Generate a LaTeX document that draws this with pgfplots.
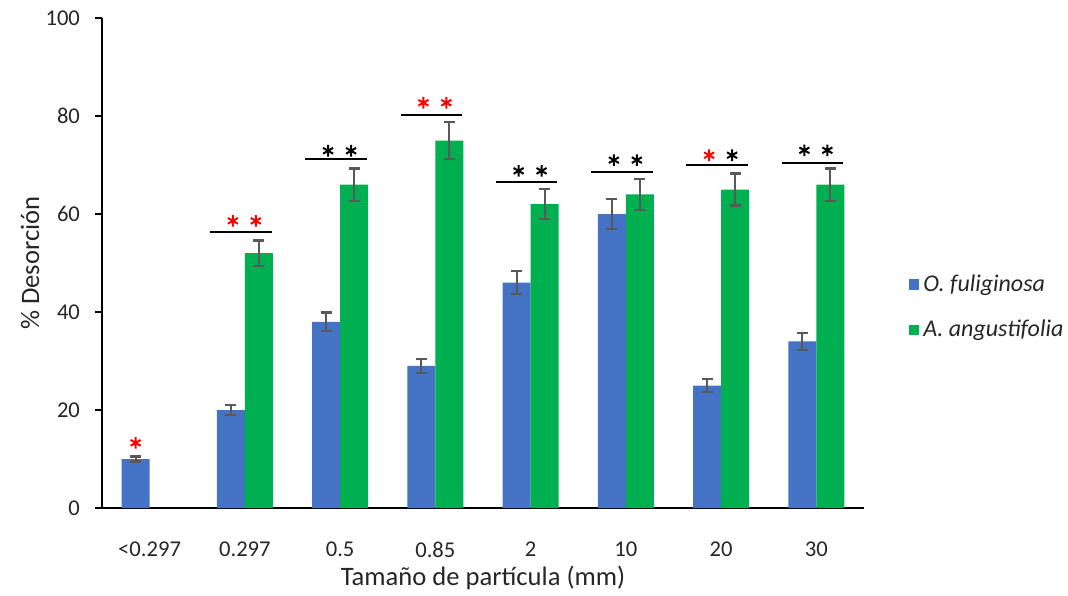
\documentclass[border=0pt]{standalone}
\usepackage{pgfplots}
\pgfplotsset{compat=1.18}
\usepackage{fontspec}
\setmainfont{Carlito}
\definecolor{blu}{HTML}{4472C4}
\definecolor{grn}{HTML}{00B050}
\definecolor{txt}{HTML}{262626}
\definecolor{err}{HTML}{595959}
\begin{document}
\begin{tikzpicture}
\begin{axis}[
 at={(0,0)}, anchor=south west,
 scale only axis, width=381pt, height=245pt,
 xmin=-0.5, xmax=7.5, ymin=0, ymax=100,
 axis x line*=bottom, axis y line*=left,
 axis line style={black, line width=1pt},
 xtick={0,...,7}, xticklabels={<0.297,0.297,0.5,0.85,2,10,20,30},
 x tick style={draw=none},
 ytick={0,20,...,100},
 y tick style={black, line width=1pt},
 tick align=outside, major tick length=3.5pt,
 /pgf/number format/assume math mode=true,
 tick label style={font=\fontsize{11.3}{13}\selectfont, text=txt},
 xticklabel style={yshift=-10pt},
 yticklabel style={xshift=-4pt},
 xlabel={Tamaño de partícula (mm)},
 ylabel={\% Desorción},
 label style={font=\fontsize{13.3}{15}\selectfont, text=txt},
 xlabel style={at={(axis description cs:0.5,-0.143)}, anchor=center},
 ylabel style={at={(axis description cs:-0.0945,0.5)}, anchor=center},
 legend style={at={(axis description cs:1.058,0.41)}, anchor=west, draw=none, fill=none, inner sep=0pt,
   font=\fontsize{12}{14}\selectfont\itshape, text=txt, row sep=9pt, cells={anchor=west}},
 legend image code/.code={\fill[#1,/tikz/.cd] (0pt,-2.7pt) rectangle (5.4pt,2.7pt);},
 clip=false,
]
\addplot[ybar, bar width=14pt, bar shift=0pt, fill=blu, draw=none,
  error bars/.cd, y dir=both, y explicit, error mark=|,
  error bar style={err, line width=1.1pt},
  error mark options={err, line width=1.1pt, mark size=2.8pt}]
 coordinates {(-0.147,10) +- (0,0.5) (0.853,20) +- (0,1) (1.853,38) +- (0,1.9) (2.853,29) +- (0,1.45)
   (3.853,46) +- (0,2.3) (4.853,60) +- (0,3) (5.853,25) +- (0,1.25) (6.853,34) +- (0,1.7)};
\addlegendentry{O. fuliginosa}
\addplot[ybar, bar width=14pt, bar shift=0pt, fill=grn, draw=none,
  error bars/.cd, y dir=both, y explicit, error mark=|,
  error bar style={err, line width=1.1pt},
  error mark options={err, line width=1.1pt, mark size=2.8pt}]
 coordinates {(1.147,52) +- (0,2.6) (2.147,66) +- (0,3.3) (3.147,75) +- (0,3.75)
   (4.147,62) +- (0,3.1) (5.147,64) +- (0,3.2) (6.147,65) +- (0,3.25) (7.147,66) +- (0,3.3)};
\addlegendentry{A. angustifolia}
% significance lines
\addplot[black, line width=1pt, forget plot] coordinates {(0.635,56.4) (1.28,56.4)};
\addplot[black, line width=1pt, forget plot] coordinates {(1.635,71.2) (2.28,71.2)};
\addplot[black, line width=1pt, forget plot] coordinates {(2.635,80.3) (3.28,80.3)};
\addplot[black, line width=1pt, forget plot] coordinates {(3.635,66.5) (4.28,66.5)};
\addplot[black, line width=1pt, forget plot] coordinates {(4.635,68.5) (5.28,68.5)};
\addplot[black, line width=1pt, forget plot] coordinates {(5.635,70) (6.28,70)};
\addplot[black, line width=1pt, forget plot] coordinates {(6.635,70.5) (7.28,70.5)};
% asterisks
\addplot[only marks, mark=asterisk, mark size=2.9pt, red, mark options={line width=1pt}, forget plot]
 coordinates {(-0.147,13.3) (0.874,58.6) (1.115,58.6) (2.874,82.7) (3.115,82.7) (5.874,72)};
\addplot[only marks, mark=asterisk, mark size=2.9pt, black, mark options={line width=1pt}, forget plot]
 coordinates {(1.874,72.9) (2.115,72.9) (3.874,68.8) (4.115,68.8) (4.874,71) (5.115,71) (6.115,72) (6.874,73) (7.115,73)};
\end{axis}
\pgfresetboundingbox
\path[use as bounding box] (-51pt,-43.5pt) rectangle (483pt,254pt);
\end{tikzpicture}
\end{document}
